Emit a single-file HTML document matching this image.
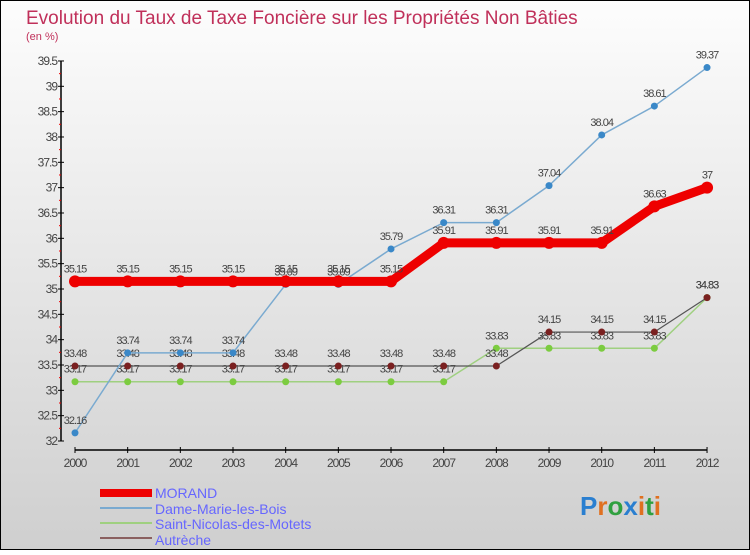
<!DOCTYPE html>
<html><head><meta charset="utf-8"><style>
body{margin:0;width:750px;height:550px;overflow:hidden;font-family:"Liberation Sans",sans-serif}
</style></head><body>
<svg id="c" width="750" height="550" xmlns="http://www.w3.org/2000/svg">
<defs><linearGradient id="bg" x1="0" y1="0" x2="0" y2="1"><stop offset="0" stop-color="#fdfdfd"/><stop offset="1" stop-color="#cfcfcf"/></linearGradient></defs>
<rect x="0.5" y="0.5" width="749" height="549" fill="url(#bg)" stroke="#000"/>
<text x="26" y="24" font-size="19" fill="#c0305a">Evolution du Taux de Taxe Foncière sur les Propriétés Non Bâties</text>
<text x="26" y="40" font-size="11" fill="#c0305a">(en %)</text>
<g id="axes"></g><g id="series"></g>
<g>
<rect x="100" y="489" width="52" height="8" fill="#e00"/>
<text x="155" y="498" font-size="14" fill="#6666ff">MORAND</text>
<line x1="100" y1="508" x2="152" y2="508" stroke="#7aaad0" stroke-width="2"/>
<text x="155" y="514" font-size="14" fill="#6666ff">Dame-Marie-les-Bois</text>
<line x1="100" y1="523" x2="152" y2="523" stroke="#9fd080" stroke-width="2"/>
<text x="155" y="529" font-size="14" fill="#6666ff">Saint-Nicolas-des-Motets</text>
<line x1="100" y1="538" x2="152" y2="538" stroke="#8a6060" stroke-width="2"/>
<text x="155" y="545" font-size="14" fill="#6666ff">Autrèche</text>
</g>
<text x="580" y="515" font-size="26" font-weight="bold"><tspan fill="#2a7fd0">P</tspan><tspan fill="#e07020">r</tspan><tspan fill="#30a040">o</tspan><tspan fill="#2a7fd0">x</tspan><tspan fill="#e07020">i</tspan><tspan fill="#30a040">t</tspan><tspan fill="#e07020">i</tspan></text>
</svg>
<script>
const years=[2000,2001,2002,2003,2004,2005,2006,2007,2008,2009,2010,2011,2012];
const morand=[35.15,35.15,35.15,35.15,35.15,35.15,35.15,35.91,35.91,35.91,35.91,36.63,37];
const dame=[32.16,33.74,33.74,33.74,35.09,35.09,35.79,36.31,36.31,37.04,38.04,38.61,39.37];
const stnicolas=[33.17,33.17,33.17,33.17,33.17,33.17,33.17,33.17,33.83,33.83,33.83,33.83,34.83];
const autreche=[33.48,33.48,33.48,33.48,33.48,33.48,33.48,33.48,33.48,34.15,34.15,34.15,34.83];
const yTicks=[32,32.5,33,33.5,34,34.5,35,35.5,36,36.5,37,37.5,38,38.5,39,39.5];
const NS="http://www.w3.org/2000/svg";
const X=i=>75+i*52.67, Y=v=>441-(v-32)*50.67;
function mk(p,t,a){const e=document.createElementNS(NS,t);for(const k in a)e.setAttribute(k,a[k]);p.appendChild(e);return e;}
const ax=document.getElementById('axes'), sg=document.getElementById('series');
let yl=mk(ax,'line',{x1:61,y1:Y(39.5),x2:61,y2:Y(32),stroke:'#000','stroke-width':1.5});

let xl=mk(ax,'line',{x1:X(0),y1:450,x2:X(12),y2:450,stroke:'#000','stroke-width':1.5});

yTicks.forEach((v,i)=>{
 mk(ax,'line',{x1:58,y1:Y(v),x2:64,y2:Y(v),stroke:'#000'});
 if(i<yTicks.length-1)mk(ax,'line',{x1:59,y1:Y(v+0.25),x2:61,y2:Y(v+0.25),stroke:'#e00'});
 const t=mk(ax,'text',{x:57,y:Y(v)+4,'font-size':12,'text-anchor':'end',fill:'#444','letter-spacing':'-1'});
 t.textContent=String(v);
 
});
years.forEach((y,i)=>{
 mk(ax,'line',{x1:X(i),y1:447,x2:X(i),y2:453,stroke:'#000'});
 const t=mk(ax,'text',{x:X(i),y:467,'font-size':12,'text-anchor':'middle',fill:'#444','letter-spacing':'-1'});
 t.textContent=y;
 
});
function series(vals,color,w,r,pc,name){
 const g=mk(sg,'g',{});
 
 mk(g,'polyline',{points:vals.map((v,i)=>X(i)+','+Y(v)).join(' '),fill:'none',stroke:color,'stroke-width':w,'stroke-linejoin':'round'});
 vals.forEach((v,i)=>{
  const c=mk(g,'circle',{cx:X(i),cy:Y(v),r:r,fill:pc});
  
  const t=mk(g,'text',{x:X(i),y:Y(v)-9,'font-size':11,'text-anchor':'middle',fill:'#444','letter-spacing':'-1'});
  t.textContent=String(v);
  
 });
}
series(stnicolas,'#9fd080',1.5,3.5,'#7ccc40','series-saint-nicolas');
series(autreche,'#555',1.2,3.5,'#7a2020','series-autreche');
series(dame,'#7aaad0',1.5,3.5,'#3a88c8','series-dame-marie');
series(morand,'#e00',9,6,'#e00','series-morand');
</script>
</body></html>
